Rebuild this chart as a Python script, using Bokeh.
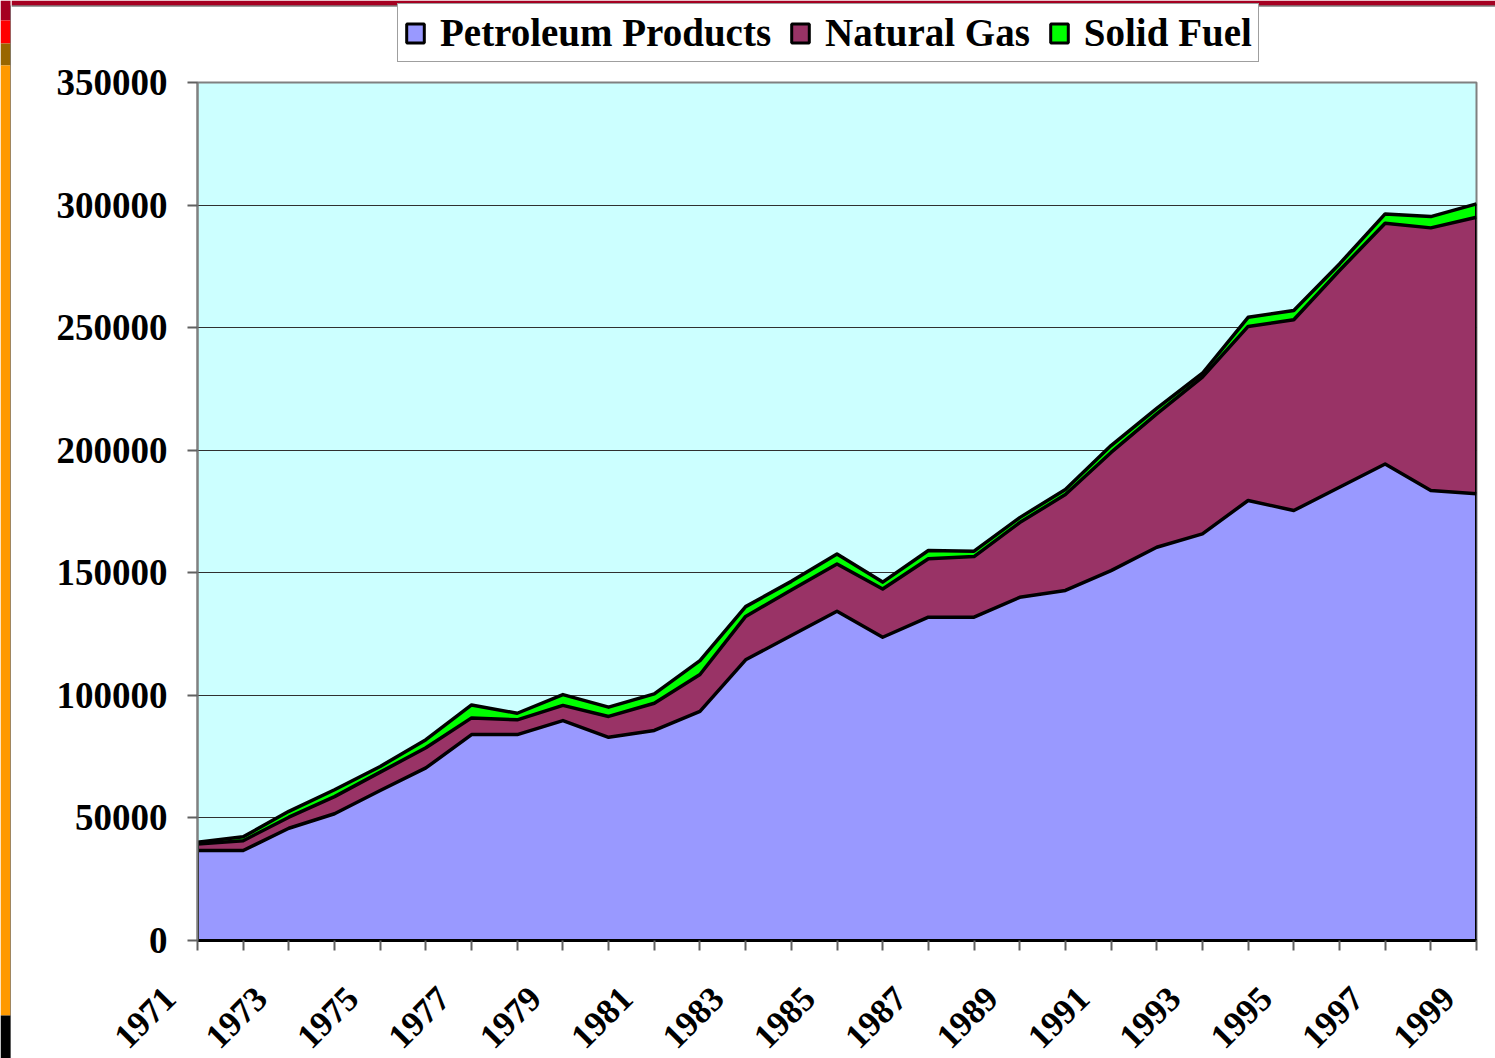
import math
import numpy as np
from bokeh.plotting import figure
from bokeh.layouts import column, row
from bokeh.models import (ColumnDataSource, FixedTicker, Legend, LegendItem, Range1d,
                          LabelSet)
from bokeh.embed import file_html
from bokeh.resources import INLINE

years = list(range(1971, 2000))
petroleum = [36700, 36700, 45800, 51700, 61200, 70400, 84000, 84000, 89700, 82900,
             85700, 93500, 114500, 124400, 134300, 123700, 131900, 131900, 140000, 142800,
             150900, 160400, 165900, 179500, 175400, 184900, 194400, 183600, 182200]
natural_gas = [2700, 4000, 4500, 7000, 7500, 8200, 6800, 6000, 6200, 8500,
               11100, 15000, 17700, 18600, 19300, 19700, 23800, 24700, 30500, 39100,
               48200, 54400, 63900, 71000, 77800, 88400, 98200, 107100, 112800]
solid_fuel = [700, 1600, 2400, 2800, 2300, 3300, 5300, 2700, 4400, 3800,
              3800, 5700, 4000, 3500, 4100, 2800, 3400, 2200, 2000, 2100,
              2800, 2300, 1600, 3700, 3800, 2700, 3800, 4600, 5500]
series_names = ["Petroleum Products", "Natural Gas", "Solid Fuel"]
series_colors = ["#9999FF", "#993366", "#00FF00"]
y_ticks = [0, 50000, 100000, 150000, 200000, 250000, 300000, 350000]
x_label_years = [y for y in years if y % 2 == 1]
x_minor_years = [y for y in years if y % 2 == 0]

# slide decoration (left edge stripe) colour bands: top..bottom in pixels
deco_top = [0, 20, 43, 65, 1015]
deco_bottom = [20, 43, 65, 1015, 1058]
deco_colors = ["#A50021", "#FF0000", "#996600", "#FF9900", "#000000"]

FONT = "Liberation Serif"
TOTAL_H = 1058
STRIP_W = 11
W = 1495 - STRIP_W
LEFT, RIGHT = 197 - STRIP_W, 19   # frame borders of the main chart
LEG_H = 62                        # legend strip height
TOP_B, FRAME_H, BOT_B = 20, 858, 22
MAIN_H = TOP_B + FRAME_H + BOT_B
LAB_H = TOTAL_H - LEG_H - MAIN_H  # rotated tick-label strip


def bare(fig):
    fig.frame_align = False
    fig.outline_line_color = None
    fig.background_fill_color = "white"
    fig.border_fill_color = "white"


c1 = np.array(petroleum, dtype=float)
c2 = c1 + np.array(natural_gas, dtype=float)
c3 = c2 + np.array(solid_fuel, dtype=float)

src = ColumnDataSource(dict(year=years, pet=petroleum, gas=natural_gas, solid=solid_fuel,
                            c1=c1, c2=c2, c3=c3))

# ---------------- left decoration stripe ----------------
ps = figure(width=STRIP_W, height=TOTAL_H, output_backend="svg", toolbar_location=None,
            x_axis_type=None, y_axis_type=None, x_range=Range1d(0, STRIP_W),
            y_range=Range1d(TOTAL_H, 0), min_border=0)
bare(ps)
ps.quad(left=0, right=STRIP_W - 1, top=deco_top, bottom=deco_bottom,
        fill_color=deco_colors, line_color=None)
ps.segment(x0=[STRIP_W - 0.5], y0=[5], x1=[STRIP_W - 0.5], y1=[TOTAL_H],
           line_color="#404040", line_width=1)

# ---------------- legend strip ----------------
pl = figure(width=W, height=LEG_H, output_backend="svg", toolbar_location=None,
            x_axis_type=None, y_axis_type=None, x_range=Range1d(0, W),
            y_range=Range1d(LEG_H, 0), min_border=0)
bare(pl)
pl.quad(left=[0], right=[W], top=[0], bottom=[5], fill_color=deco_colors[0], line_color=None)
pl.segment(x0=[0], y0=[5.5], x1=[W], y1=[5.5], line_color="#404040", line_width=1)
leg_items = []
for name, col in zip(series_names, series_colors):
    r = pl.quad(left=[np.nan], right=[np.nan], bottom=[np.nan], top=[np.nan],
                fill_color=col, line_color="black", line_width=3)
    leg_items.append(LegendItem(label=name, renderers=[r]))
legend = Legend(items=leg_items, orientation="horizontal", location=(397 - STRIP_W, 0))
legend.label_text_font = FONT
legend.label_text_font_style = "bold"
legend.label_text_font_size = "39px"
legend.label_text_color = "black"
legend.glyph_width = 22
legend.glyph_height = 24
legend.label_standoff = 14
legend.spacing = 18
legend.padding = 6
legend.margin = 0
legend.border_line_color = "#404040"
legend.border_line_width = 1
legend.background_fill_color = "white"
legend.background_fill_alpha = 1
pl.add_layout(legend)

# ---------------- main chart ----------------
p = figure(width=W, height=MAIN_H, output_backend="svg", toolbar_location=None,
           x_range=Range1d(years[0], years[-1]), y_range=Range1d(0, 350000),
           min_border_left=LEFT, min_border_right=RIGHT, min_border_top=TOP_B,
           min_border_bottom=BOT_B)
p.frame_align = False
p.background_fill_color = "#CCFFFF"
p.border_fill_color = "white"
p.outline_line_color = "#808080"
p.outline_line_width = 2

p.varea_stack(["pet", "gas", "solid"], x="year", source=src, color=series_colors)
for col in ["c1", "c2", "c3"]:
    p.line("year", col, source=src, line_color="black", line_width=3.5, line_join="round")
p.segment(x0=[years[0], years[-1]], y0=[0, 0], x1=[years[0], years[-1]],
          y1=[c3[0], c3[-1]], line_color="black", line_width=3)

p.xgrid.visible = False
p.ygrid.ticker = FixedTicker(ticks=y_ticks)
p.ygrid.grid_line_color = "#303030"
p.ygrid.grid_line_width = 1

p.yaxis.ticker = FixedTicker(ticks=y_ticks)
p.yaxis.major_label_overrides = {t: str(t) for t in y_ticks}
p.yaxis.axis_line_color = "#808080"
p.yaxis.axis_line_width = 2
p.yaxis.major_tick_line_color = "#606060"
p.yaxis.major_tick_line_width = 2
p.yaxis.major_tick_out = 10
p.yaxis.major_tick_in = 0
p.yaxis.minor_tick_line_color = None
p.yaxis.major_label_standoff = 20
p.yaxis.major_label_text_font = FONT
p.yaxis.major_label_text_font_style = "bold"
p.yaxis.major_label_text_font_size = "37px"
p.yaxis.major_label_text_color = "black"

p.xaxis.ticker = FixedTicker(ticks=x_label_years, minor_ticks=x_minor_years)
p.xaxis.major_label_overrides = {y: "" for y in x_label_years}
p.xaxis.major_label_standoff = 0
p.xaxis.axis_line_color = "black"
p.xaxis.axis_line_width = 3
p.xaxis.major_tick_line_color = "#606060"
p.xaxis.major_tick_line_width = 2
p.xaxis.major_tick_out = 10
p.xaxis.major_tick_in = 0
p.xaxis.minor_tick_line_color = "#606060"
p.xaxis.minor_tick_line_width = 2
p.xaxis.minor_tick_out = 10
p.xaxis.minor_tick_in = 0

# ---------------- rotated year labels strip ----------------
px_per_year = (W - LEFT - RIGHT) / (years[-1] - years[0])
pb = figure(width=W, height=LAB_H, output_backend="svg", toolbar_location=None,
            x_axis_type=None, y_axis_type=None,
            x_range=Range1d(years[0] - LEFT / px_per_year, years[-1] + RIGHT / px_per_year),
            y_range=Range1d(0, LAB_H), min_border=0)
bare(pb)
lab_src = ColumnDataSource(dict(x=x_label_years, y=[LAB_H] * len(x_label_years),
                                t=[str(y) for y in x_label_years]))
labels = LabelSet(x="x", y="y", text="t", source=lab_src, angle=math.pi / 4,
                  x_offset=-28, y_offset=-30, text_align="right", text_baseline="middle",
                  text_font=FONT, text_font_style="bold", text_font_size="35px",
                  text_color="black")
pb.add_layout(labels)

layout = row(ps, column(pl, p, pb, spacing=0), spacing=0)
open("out.html", "w").write(file_html(layout, INLINE))
